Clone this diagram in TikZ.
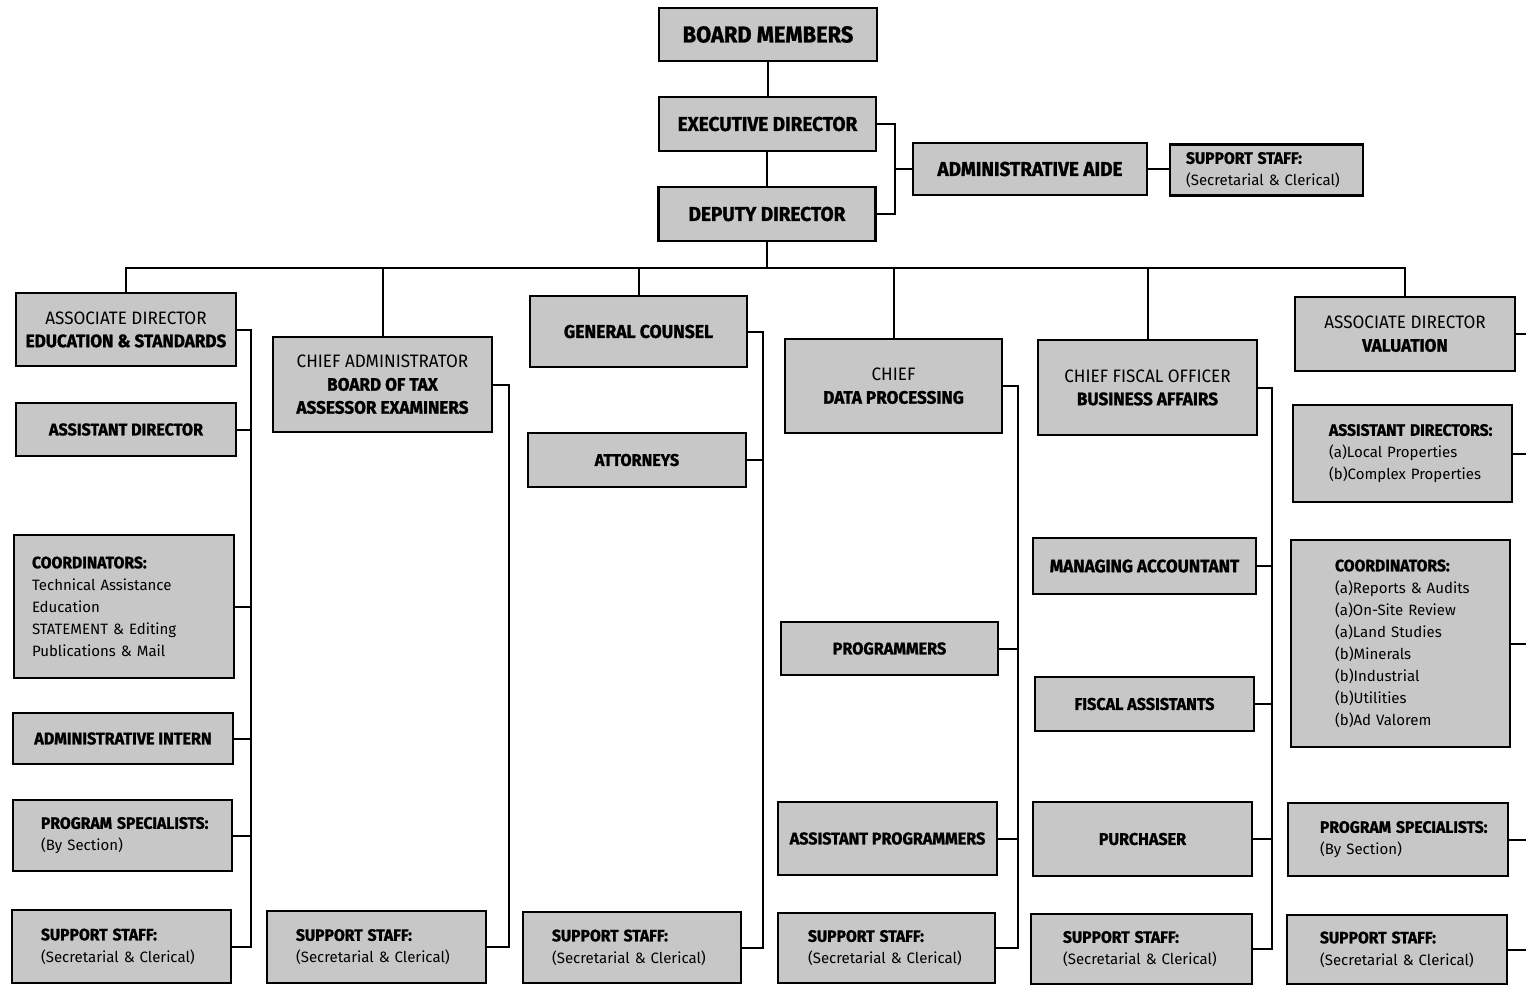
\documentclass[tikz,border=0pt]{standalone}
\usepackage{fontspec}
\setmainfont{Fira Sans}
\newfontfamily\hdf[FakeStretch=0.95, BoldFeatures={FakeBold=1.2}]{Fira Sans}
\newcommand\ml[1]{\mbox{#1}}
\newcommand\lh[1]{\mbox{\hdf\bfseries\fontsize{16.5}{22}\selectfont #1}}
\begin{document}
\begin{tikzpicture}[x=1pt,y=-1pt,
  box/.style={draw=black, line width=2.2pt, fill=black!22, inner sep=0pt, align=center,
     font=\hdf\fontsize{18}{23}\selectfont},
  bbox/.style={box, font=\hdf\bfseries\fontsize{17}{23}\selectfont},
  lbox/.style={box, align=left, font=\fontsize{15}{22}\selectfont},
  conn/.style={line width=2pt, line join=miter},
]
\useasboundingbox (0,0) rectangle (1526,986);

% top
\node[box, minimum width=218, minimum height=53, font=\hdf\bfseries\fontsize{23}{25}\selectfont] (board) at (768,34.5) {BOARD MEMBERS};
\node[box, minimum width=217, minimum height=54, font=\hdf\bfseries\fontsize{20}{23}\selectfont] (exec) at (767.5,124) {EXECUTIVE DIRECTOR};
\node[box, minimum width=217, minimum height=54, font=\hdf\bfseries\fontsize{20}{23}\selectfont] (deputy) at (767,214) {DEPUTY DIRECTOR};
\node[box, minimum width=234, minimum height=52, font=\hdf\bfseries\fontsize{20}{23}\selectfont] (aide) at (1030,169) {ADMINISTRATIVE AIDE};
\node[lbox, minimum height=51, inner xsep=16, text width=161] (ss0) at (1266.5,170) {\lh{SUPPORT STAFF:}\\\ml{(Secretarial \& Clerical)}};

% column 1
\node[box, minimum width=220, minimum height=73] (ade) at (126,329.5) {ASSOCIATE DIRECTOR\\\textbf{EDUCATION \& STANDARDS}};
\node[bbox, minimum width=220, minimum height=53] (ad1) at (126,429.5) {ASSISTANT DIRECTOR};
\node[lbox, minimum height=143, inner xsep=18, text width=184] (coord1) at (124,606.5) {\lh{COORDINATORS:}\\\ml{Technical Assistance}\\\ml{Education}\\\ml{STATEMENT \& Editing}\\\ml{Publications \& Mail}};
\node[bbox, minimum width=220, minimum height=51] (intern) at (123,738.5) {ADMINISTRATIVE INTERN};
\node[lbox, minimum height=71, inner xsep=28, text width=163] (ps1) at (122.5,835.5) {\lh{PROGRAM SPECIALISTS:}\\\ml{(By Section)}};
\node[lbox, minimum height=73, inner xsep=29, text width=161] (ss1) at (121.5,946.5) {\lh{SUPPORT STAFF:}\\\ml{(Secretarial \& Clerical)}};

% column 2
\node[box, minimum width=219, minimum height=95] (ca) at (382.5,384.5) {CHIEF ADMINISTRATOR\\\textbf{BOARD OF TAX}\\\textbf{ASSESSOR EXAMINERS}};
\node[lbox, minimum height=72, inner xsep=29, text width=161] (ss2) at (376.5,947) {\lh{SUPPORT STAFF:}\\\ml{(Secretarial \& Clerical)}};

% column 3
\node[bbox, minimum width=217, minimum height=71, font=\hdf\bfseries\fontsize{18.5}{23}\selectfont] (gc) at (638.5,331.5) {GENERAL COUNSEL};
\node[bbox, minimum width=218, minimum height=54] (att) at (637,460) {ATTORNEYS};
\node[lbox, minimum height=71, inner xsep=29, text width=160] (ss3) at (632,947.5) {\lh{SUPPORT STAFF:}\\\ml{(Secretarial \& Clerical)}};

% column 4
\node[box, minimum width=217, minimum height=94] (dp) at (893.5,386) {CHIEF\\\textbf{DATA PROCESSING}};
\node[bbox, minimum width=217, minimum height=53] (prog) at (889.5,648.5) {PROGRAMMERS};
\node[bbox, minimum width=219, minimum height=73] (aprog) at (887.5,838.5) {ASSISTANT PROGRAMMERS};
\node[lbox, minimum height=70, inner xsep=30, text width=157] (ss4) at (886.5,948) {\lh{SUPPORT STAFF:}\\\ml{(Secretarial \& Clerical)}};

% column 5
\node[box, minimum width=219, minimum height=95] (cfo) at (1147.5,387.5) {CHIEF FISCAL OFFICER\\\textbf{BUSINESS AFFAIRS}};
\node[bbox, minimum width=223, minimum height=56, font=\hdf\bfseries\fontsize{18}{23}\selectfont] (ma) at (1144.5,566) {MANAGING ACCOUNTANT};
\node[bbox, minimum width=219, minimum height=54] (fa) at (1144.5,704) {FISCAL ASSISTANTS};
\node[bbox, minimum width=219, minimum height=74] (pur) at (1142.5,839) {PURCHASER};
\node[lbox, minimum height=70, inner xsep=32, text width=157] (ss5) at (1141.5,949) {\lh{SUPPORT STAFF:}\\\ml{(Secretarial \& Clerical)}};

% column 6
\node[box, minimum width=220, minimum height=74] (adv) at (1405,334) {ASSOCIATE DIRECTOR\\\textbf{VALUATION}};
\node[lbox, minimum height=97, inner xsep=36, text width=147] (ad6) at (1402.5,453.5) {\lh{ASSISTANT DIRECTORS:}\\\ml{(a)Local Properties}\\\ml{(b)Complex Properties}};
\node[lbox, minimum height=207, inner xsep=44, text width=131] (coord6) at (1400.5,643.5) {\lh{COORDINATORS:}\\\ml{(a)Reports \& Audits}\\\ml{(a)On-Site Review}\\\ml{(a)Land Studies}\\\ml{(b)Minerals}\\\ml{(b)Industrial}\\\ml{(b)Utilities}\\\ml{(b)Ad Valorem}};
\node[lbox, minimum height=73, inner xsep=32, text width=156] (ps6) at (1398,839.5) {\lh{PROGRAM SPECIALISTS:}\\\ml{(By Section)}};
\node[lbox, minimum height=69, inner xsep=33, text width=154] (ss6) at (1397,949.5) {\lh{SUPPORT STAFF:}\\\ml{(Secretarial \& Clerical)}};

% coordinates
\coordinate (bus) at (0,268);
\coordinate (c0) at (895,0);
\coordinate (c1) at (251,0);
\coordinate (c2) at (509,0);
\coordinate (c3) at (763,0);
\coordinate (c4) at (1018,0);
\coordinate (c5) at (1272,0);
\coordinate (c6) at (1526,0);

% top connectors
\draw[conn] (exec.north) -- (exec.north |- board.south);
\draw[conn] (deputy.north) -- (deputy.north |- exec.south);
\draw[conn] (deputy.south) -- (deputy.south |- bus);
\draw[conn] (exec.east) -| (c0 |- deputy.east) -- (deputy.east);
\draw[conn] (aide.west) -- (aide.west -| c0);
\draw[conn] (aide.east) -- (aide.east -| ss0.west);

% main bus
\draw[conn] (ade.north) -- (ade.north |- bus) -- (adv.north |- bus) -- (adv.north);
\foreach \n in {ca,gc,dp,cfo} \draw[conn] (\n.north) -- (\n.north |- bus);

% column buses
\draw[conn] (ade.east) -| (c1 |- ss1.east) -- (ss1.east);
\foreach \n in {ad1,coord1,intern,ps1} \draw[conn] (\n.east) -- (\n.east -| c1);
\draw[conn] (ca.east) -| (c2 |- ss2.east) -- (ss2.east);
\draw[conn] (gc.east) -| (c3 |- ss3.east) -- (ss3.east);
\draw[conn] (att.east) -- (att.east -| c3);
\draw[conn] (dp.east) -| (c4 |- ss4.east) -- (ss4.east);
\foreach \n in {prog,aprog} \draw[conn] (\n.east) -- (\n.east -| c4);
\draw[conn] (cfo.east) -| (c5 |- ss5.east) -- (ss5.east);
\foreach \n in {ma,fa,pur} \draw[conn] (\n.east) -- (\n.east -| c5);
\foreach \n in {adv,ad6,coord6,ps6,ss6} \draw[conn] (\n.east) -- (\n.east -| c6);
\end{tikzpicture}
\end{document}
